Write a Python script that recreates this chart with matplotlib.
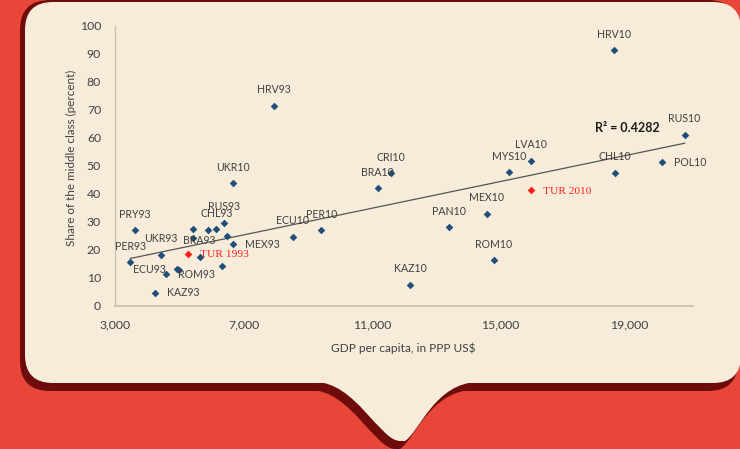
import numpy as np
import matplotlib
matplotlib.use("Agg")
import matplotlib.pyplot as plt
from matplotlib.patches import FancyBboxPatch, PathPatch
from matplotlib.path import Path

# ---------------- data ----------------
labels = ["PER93", "PRY93", "UKR93", "ECU93", "KAZ93", "ROM93", "", "BRA93", "", "",
          "", "CHL93", "RUS93", "", "", "MEX93", "UKR10", "HRV93", "ECU10", "PER10",
          "BRA10", "CRI10", "KAZ10", "PAN10", "MEX10", "ROM10", "MYS10", "LVA10",
          "CHL10", "HRV10", "POL10", "RUS10"]
gdp = [3476, 3622, 4431, 4586, 4244, 4928, 4990, 5633, 5414, 5414,
       5892, 6151, 6379, 6472, 6328, 6680, 6680, 7955, 8536, 9417,
       11180, 11594, 12180, 13388, 14570, 14789, 15255, 15949,
       18570, 18521, 20014, 20729]
share = [15.5, 27.0, 18.2, 11.2, 4.6, 13.1, 12.6, 17.5, 27.3, 24.3,
         27.0, 27.3, 29.7, 24.9, 14.3, 22.0, 43.8, 71.4, 24.6, 27.0,
         41.9, 47.3, 7.4, 28.1, 32.8, 16.3, 47.6, 51.8,
         47.4, 91.3, 51.3, 61.0]

tur_labels = ["TUR 1993", "TUR 2010"]
tur_gdp = [5259, 15949]
tur_share = [18.5, 41.3]

r2_text = "R\u00b2 = 0.4282"
x_ticks = [3000, 7000, 11000, 15000, 19000]
y_ticks = list(range(0, 101, 10))

# label placement (pixels): right-side labels and special offsets
right_labels = {"KAZ93", "MEX93", "POL10"}
special_offsets = {"ECU93": (-17, 5), "ROM93": (19, -5)}

# ---------------- figure ----------------
W, H = 740, 449
fig = plt.figure(figsize=(W / 100, H / 100), dpi=100)
fig.patch.set_facecolor("#e9463a")

bg = fig.add_axes([0, 0, 1, 1], zorder=0)
bg.set_xlim(0, W)
bg.set_ylim(H, 0)
bg.axis("off")
bg.patch.set_alpha(0)

cream = "#f6ecd9"
shadow = "#6e0c0c"


def tail_path(dx, dy):
    verts = [(300 + dx, 370 + dy), (315 + dx, 382 + dy),
             (355 + dx, 382 + dy), (380 + dx, 441 + dy), (400 + dx, 441 + dy),
             (405 + dx, 441 + dy),
             (420 + dx, 431 + dy), (435 + dx, 383 + dy), (478 + dx, 382 + dy),
             (490 + dx, 370 + dy), (300 + dx, 370 + dy)]
    codes = [Path.MOVETO, Path.LINETO,
             Path.CURVE4, Path.CURVE4, Path.CURVE4,
             Path.LINETO,
             Path.CURVE4, Path.CURVE4, Path.CURVE4,
             Path.LINETO, Path.CLOSEPOLY]
    return Path(verts, codes)


# shadow
bg.add_patch(FancyBboxPatch((20, 0), 718, 391,
                            boxstyle="round,pad=0,rounding_size=30",
                            fc=shadow, ec="none"))
bg.add_patch(PathPatch(tail_path(-5, 8), fc=shadow, ec="none"))
# cream bubble
bg.add_patch(FancyBboxPatch((25, 2), 716, 381,
                            boxstyle="round,pad=0,rounding_size=28",
                            fc=cream, ec="none"))
bg.add_patch(PathPatch(tail_path(0, 0), fc=cream, ec="none"))

# ---------------- chart ----------------
font = "Lato"
plt.rcParams["font.family"] = [font, "DejaVu Sans"]
txt_col = "#404040"

ax = fig.add_axes([115 / W, 1 - 305.7 / H, (693 - 115) / W, (305.7 - 25.7) / H], zorder=2)
ax.patch.set_alpha(0)
ax.set_xlim(3000, 20990)
ax.set_ylim(0, 100)
for s in ["top", "right"]:
    ax.spines[s].set_visible(False)
ax.spines["left"].set_color("#c8c0b0")
ax.spines["bottom"].set_color("#c8c0b0")
ax.spines["left"].set_linewidth(1.0)
ax.spines["bottom"].set_linewidth(1.2)
ax.set_xticks(x_ticks)
ax.set_xticklabels([f"{v:,}" for v in x_ticks])
ax.set_yticks(y_ticks)
ax.tick_params(length=0, labelsize=8.8, colors=txt_col)
ax.tick_params(axis="y", pad=10)
ax.tick_params(axis="x", pad=10)

fig.text(403 / W, 1 - 348 / H, "GDP per capita, in PPP US$", ha="center", va="center",
         fontsize=8.6, color=txt_col)
fig.text(71 / W, 1 - 158 / H, "Share of the middle class (percent)", ha="center", va="center",
         rotation=90, fontsize=8.4, color=txt_col)

# trend line from linear fit of all points
allx = np.array(gdp + tur_gdp, dtype=float)
ally = np.array(share + tur_share, dtype=float)
b, a = np.polyfit(allx, ally, 1)
xs = np.array([allx.min(), allx.max()])
ax.plot(xs, a + b * xs, color="#555555", lw=0.9, zorder=3)

ax.scatter(gdp, share, marker="D", s=15, color="#1f4e79", zorder=4, linewidths=0)
ax.scatter(tur_gdp, tur_share, marker="D", s=15, color="#ff1a1a", zorder=4, linewidths=0)

for lab, x, y in zip(labels, gdp, share):
    if not lab:
        continue
    if lab in right_labels:
        ax.annotate(lab, (x, y), xytext=(12, 0), textcoords="offset pixels",
                    ha="left", va="center", fontsize=7.6, color=txt_col, zorder=5)
    elif lab in special_offsets:
        ax.annotate(lab, (x, y), xytext=special_offsets[lab], textcoords="offset pixels",
                    ha="center", va="center", fontsize=7.6, color=txt_col, zorder=5)
    else:
        ax.annotate(lab, (x, y), xytext=(0, 16), textcoords="offset pixels",
                    ha="center", va="center", fontsize=7.6, color=txt_col, zorder=5)

for lab, x, y in zip(tur_labels, tur_gdp, tur_share):
    ax.annotate(lab, (x, y), xytext=(12, -1), textcoords="offset pixels",
                ha="left", va="center", fontsize=8.2, color="#ff2020",
                family=["Liberation Serif", "DejaVu Serif"], zorder=5)

fig.text(627 / W, 1 - 128 / H, r2_text, ha="center", va="center", fontsize=9,
         fontweight="bold", color="#1a1a1a")

fig.savefig("out.png", dpi=100, facecolor=fig.get_facecolor())
